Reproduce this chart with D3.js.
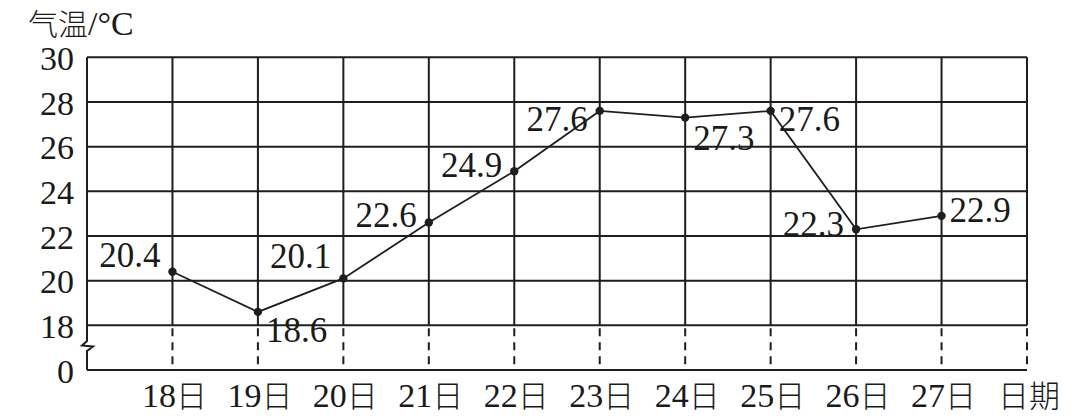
<!DOCTYPE html>
<html><head><meta charset="utf-8">
<script src="https://cdn.jsdelivr.net/npm/d3@7"></script>
<style>
html,body{margin:0;padding:0;background:#fff;}
svg{display:block;}
text{font-family:"Liberation Serif","Times New Roman","Noto Sans CJK SC",serif;fill:#1a1a1a;}
.cjk{font-family:"Noto Sans CJK SC","Liberation Serif",serif;font-weight:300;}
</style></head><body>
<svg id="c" width="1088" height="420"></svg>
<script>
const days = ["18日","19日","20日","21日","22日","23日","24日","25日","26日","27日"];
const temps = [20.4,18.6,20.1,22.6,24.9,27.6,27.3,27.6,22.3,22.9];
const labelSide = ["l","r","l","l","l","l","r","r","l","r"];
const labelDy = [-5,30,-10,4,6,20,32,20,7,6];
const yTicks = [0,18,20,22,24,26,28,30];
const yTitleCJK = "气温";
const yTitleUnit = "/°C";
const xTitle = "日期";

const svg = d3.select("#c");
const ink = "#1e1e1e";
const fsNum = 35;
const fsTick = 34;
const fsCJK = 31;

const x = d3.scalePoint().domain(["", ...days, xTitle]).range([87, 1027]);
const y = d3.scaleLinear().domain([0, 18, 30]).range([370, 325.3, 57.3]);

// horizontal grid lines
svg.append("g").selectAll("line").data(yTicks).join("line")
  .attr("x1", 87).attr("x2", 1027)
  .attr("y1", d => y(d)).attr("y2", d => y(d))
  .attr("stroke", ink).attr("stroke-width", 2);

// vertical grid (solid above 18, dashed below)
const vcols = [...days, xTitle];
svg.append("g").selectAll("line").data(vcols).join("line")
  .attr("x1", d => x(d)).attr("x2", d => x(d))
  .attr("y1", y(30)).attr("y2", y(18))
  .attr("stroke", ink).attr("stroke-width", 2);
svg.append("g").selectAll("line").data(vcols).join("line")
  .attr("x1", d => x(d)).attr("x2", d => x(d))
  .attr("y1", y(18)).attr("y2", y(0))
  .attr("stroke", ink).attr("stroke-width", 2)
  .attr("stroke-dasharray", "8,6").attr("stroke-dashoffset", -3);

// y axis with break
const x0 = x("");
const path = d3.path();
path.moveTo(x0, y(30)); path.lineTo(x0, 341);
path.lineTo(82, 345.5); path.lineTo(93, 346.5); path.lineTo(x0, 351);
path.lineTo(x0, y(0));
svg.append("path").attr("d", path.toString()).attr("fill", "none")
  .attr("stroke", ink).attr("stroke-width", 2).attr("stroke-linejoin", "miter");

// y tick labels
svg.append("g").selectAll("text").data(yTicks).join("text")
  .attr("x", 74).attr("y", d => y(d)).attr("dy", "0.37em")
  .attr("text-anchor", "end").attr("font-size", fsTick).text(d => d);

// y title
const tt = svg.append("text").attr("x", 28).attr("y", 35);
tt.append("tspan").attr("class", "cjk").attr("font-size", 30).text(yTitleCJK);
tt.append("tspan").attr("font-size", 34).text(yTitleUnit);

// x labels
const xl = svg.append("g").selectAll("text").data(vcols).join("text")
  .attr("x", d => x(d) + 2).attr("y", 407).attr("text-anchor", "middle");
xl.each(function(d) {
  const t = d3.select(this);
  const m = d.match(/^(\d*)(.*)$/);
  if (m[1]) t.append("tspan").attr("font-size", fsTick).text(m[1]);
  t.append("tspan").attr("class", "cjk").attr("font-size", fsCJK).text(m[2]);
});

// data line
const pts = days.map((d, i) => ({d, v: temps[i], i}));
svg.append("path").datum(pts)
  .attr("d", d3.line().x(p => x(p.d)).y(p => y(p.v)))
  .attr("fill", "none").attr("stroke", ink).attr("stroke-width", 1.8);
svg.append("g").selectAll("circle").data(pts).join("circle")
  .attr("cx", p => x(p.d)).attr("cy", p => y(p.v)).attr("r", 4.2).attr("fill", ink);

// value labels
svg.append("g").selectAll("text").data(pts).join("text")
  .attr("x", p => x(p.d) + (labelSide[p.i] === "l" ? -12 : 8))
  .attr("y", p => y(p.v) + labelDy[p.i])
  .attr("text-anchor", p => labelSide[p.i] === "l" ? "end" : "start")
  .attr("font-size", fsNum).text(p => p.v.toFixed(1));
</script>
</body></html>
